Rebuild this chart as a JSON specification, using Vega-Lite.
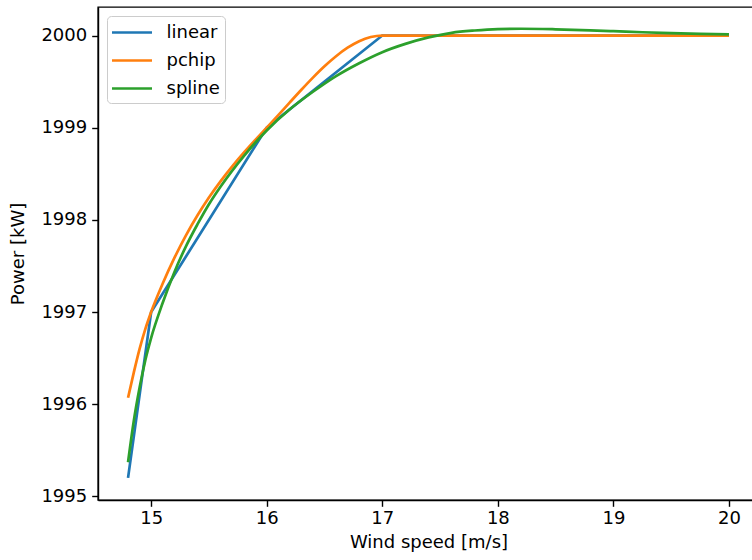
{
  "$schema": "https://vega.github.io/schema/vega-lite/v6.json",
  "autosize": {"type": "none"},
  "width": 661,
  "height": 493,
  "padding": {"left": 98, "top": 7, "right": -7, "bottom": 60},
  "background": "white",
  "config": {
    "font": "DejaVu Sans",
    "view": {"stroke": "black", "strokeWidth": 1.4},
    "axis": {
      "grid": false,
      "domainColor": "black",
      "domainWidth": 1.4,
      "tickColor": "black",
      "tickWidth": 1.4,
      "tickSize": 6.3,
      "labelFont": "DejaVu Sans",
      "labelFontSize": 18,
      "labelColor": "black",
      "titleFont": "DejaVu Sans",
      "titleFontSize": 18,
      "titleFontWeight": "normal",
      "titleColor": "black"
    },
    "legend": {
      "orient": "none",
      "legendX": 9,
      "legendY": 9,
      "symbolType": "M-2,0H2",
      "symbolSize": 400,
      "symbolStrokeWidth": 2.7,
      "symbolOffset": 8.5,
      "labelFont": "DejaVu Sans",
      "labelFontSize": 18,
      "labelColor": "black",
      "labelOffset": 23,
      "padding": 5,
      "rowPadding": 7,
      "strokeColor": "#cccccc",
      "fillColor": "rgba(255,255,255,0.8)",
      "cornerRadius": 4
    }
  },
  "data": {
    "values": [
      {"series": "linear", "x": 14.8, "y": 1995.2},
      {"series": "linear", "x": 15, "y": 1997},
      {"series": "linear", "x": 16, "y": 1999},
      {"series": "linear", "x": 17, "y": 2000},
      {"series": "linear", "x": 18, "y": 2000},
      {"series": "linear", "x": 19, "y": 2000},
      {"series": "linear", "x": 20, "y": 2000},

      {"series": "pchip", "x": 14.8, "y": 1996.07},
      {"series": "pchip", "x": 14.85, "y": 1996.345},
      {"series": "pchip", "x": 14.9, "y": 1996.6},
      {"series": "pchip", "x": 14.95, "y": 1996.817},
      {"series": "pchip", "x": 15, "y": 1997},
      {"series": "pchip", "x": 15.1, "y": 1997.309},
      {"series": "pchip", "x": 15.2, "y": 1997.584},
      {"series": "pchip", "x": 15.3, "y": 1997.829},
      {"series": "pchip", "x": 15.4, "y": 1998.047},
      {"series": "pchip", "x": 15.5, "y": 1998.242},
      {"series": "pchip", "x": 15.6, "y": 1998.418},
      {"series": "pchip", "x": 15.7, "y": 1998.578},
      {"series": "pchip", "x": 15.8, "y": 1998.726},
      {"series": "pchip", "x": 15.9, "y": 1998.865},
      {"series": "pchip", "x": 16, "y": 1999},
      {"series": "pchip", "x": 16.1, "y": 1999.136},
      {"series": "pchip", "x": 16.2, "y": 1999.275},
      {"series": "pchip", "x": 16.3, "y": 1999.412},
      {"series": "pchip", "x": 16.4, "y": 1999.544},
      {"series": "pchip", "x": 16.5, "y": 1999.667},
      {"series": "pchip", "x": 16.6, "y": 1999.776},
      {"series": "pchip", "x": 16.7, "y": 1999.868},
      {"series": "pchip", "x": 16.8, "y": 1999.939},
      {"series": "pchip", "x": 16.9, "y": 1999.984},
      {"series": "pchip", "x": 17, "y": 2000},
      {"series": "pchip", "x": 18, "y": 2000},
      {"series": "pchip", "x": 19, "y": 2000},
      {"series": "pchip", "x": 20, "y": 2000},

      {"series": "spline", "x": 14.8, "y": 1995.37},
      {"series": "spline", "x": 14.85, "y": 1995.82},
      {"series": "spline", "x": 14.9, "y": 1996.18},
      {"series": "spline", "x": 14.95, "y": 1996.48},
      {"series": "spline", "x": 15.0, "y": 1996.72},
      {"series": "spline", "x": 15.1, "y": 1997.1},
      {"series": "spline", "x": 15.2, "y": 1997.43},
      {"series": "spline", "x": 15.3, "y": 1997.71},
      {"series": "spline", "x": 15.4, "y": 1997.95},
      {"series": "spline", "x": 15.5, "y": 1998.17},
      {"series": "spline", "x": 15.6, "y": 1998.36},
      {"series": "spline", "x": 15.8, "y": 1998.69},
      {"series": "spline", "x": 16.0, "y": 1998.97},
      {"series": "spline", "x": 16.2, "y": 1999.2},
      {"series": "spline", "x": 16.4, "y": 1999.39},
      {"series": "spline", "x": 16.6, "y": 1999.56},
      {"series": "spline", "x": 16.8, "y": 1999.7},
      {"series": "spline", "x": 17.0, "y": 1999.82},
      {"series": "spline", "x": 17.2, "y": 1999.91},
      {"series": "spline", "x": 17.4, "y": 1999.98},
      {"series": "spline", "x": 17.6, "y": 2000.03},
      {"series": "spline", "x": 17.8, "y": 2000.055},
      {"series": "spline", "x": 18.0, "y": 2000.07},
      {"series": "spline", "x": 18.2, "y": 2000.074},
      {"series": "spline", "x": 18.5, "y": 2000.068},
      {"series": "spline", "x": 18.8, "y": 2000.057},
      {"series": "spline", "x": 19.0, "y": 2000.048},
      {"series": "spline", "x": 19.25, "y": 2000.036},
      {"series": "spline", "x": 19.5, "y": 2000.026},
      {"series": "spline", "x": 19.75, "y": 2000.018},
      {"series": "spline", "x": 20.0, "y": 2000.012}
    ]
  },
  "encoding": {
    "x": {
      "field": "x",
      "type": "quantitative",
      "scale": {"domain": [14.54, 20.26], "nice": false, "zero": false},
      "axis": {"values": [15, 16, 17, 18, 19, 20], "format": "d", "title": "Wind speed [m/s]", "labelPadding": 3, "titlePadding": 6}
    },
    "y": {
      "field": "y",
      "type": "quantitative",
      "scale": {"domain": [1994.96, 2000.31], "nice": false, "zero": false},
      "axis": {"values": [1995, 1996, 1997, 1998, 1999, 2000], "format": "d", "title": "Power [kW]", "labelPadding": 5, "titlePadding": 13}
    },
    "color": {
      "field": "series",
      "type": "nominal",
      "scale": {"domain": ["linear", "pchip", "spline"], "range": ["#1f77b4", "#ff7f0e", "#2ca02c"]},
      "legend": {"title": null}
    }
  },
  "layer": [
    {
      "transform": [{"filter": "datum.series === 'linear'"}],
      "mark": {"type": "line", "strokeWidth": 2.7, "interpolate": "linear", "strokeCap": "butt"}
    },
    {
      "transform": [{"filter": "datum.series !== 'linear'"}],
      "mark": {"type": "line", "strokeWidth": 2.7, "interpolate": "monotone", "strokeCap": "butt"}
    }
  ]
}
